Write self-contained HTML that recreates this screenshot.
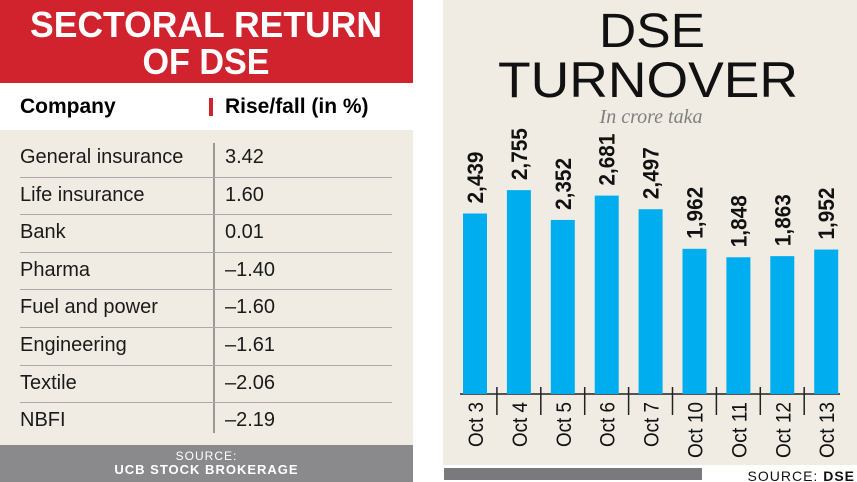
<!DOCTYPE html>
<html><head><meta charset="utf-8">
<style>
html,body{margin:0;padding:0;background:#fff;width:857px;height:482px;overflow:hidden;font-family:"Liberation Sans",sans-serif}
#left{position:absolute;left:0;top:0;width:413px;height:482px;background:#f0ece4}
#red{position:absolute;left:0;top:0;width:413px;height:83px;background:#d1232d}
#hdr{position:absolute;left:0;top:83px;width:413px;height:47px;background:#fff;font-weight:bold;font-size:21px}
.row{position:absolute;left:20px;width:372px;height:37.6px;font-size:20px;line-height:37.6px;color:#1a1a1a}
.row span{position:absolute;left:205px}
#src{position:absolute;left:0;top:445px;width:413px;height:37px;background:#8a8a8c;color:#fff;text-align:center;font-size:12px;line-height:14px;padding-top:4px;box-sizing:border-box;letter-spacing:1px}
#right{position:absolute;left:443px;top:0;width:414px;height:465px;background:#f0ece4}
</style></head><body>
<div id="left">
<div id="red">
<svg width="413" height="83"><text x="206" y="37" text-anchor="middle" font-size="36" font-weight="bold" fill="#fff" textLength="352" lengthAdjust="spacingAndGlyphs">SECTORAL RETURN</text><text x="206" y="74" text-anchor="middle" font-size="36" font-weight="bold" fill="#fff" textLength="127" lengthAdjust="spacingAndGlyphs">OF DSE</text></svg>
</div>
<div id="hdr">
<div style="position:absolute;left:20px;top:12px">Company</div>
<div style="position:absolute;left:209px;top:15px;width:4px;height:18px;background:#d1232d"></div>
<div style="position:absolute;left:225px;top:12px">Rise/fall (in %)</div>
</div>
<div style="position:absolute;left:213px;top:143px;width:1.5px;height:290px;background:#999"></div>
<div id="rows"></div>
<div id="src">SOURCE:<br><b style="font-size:13px">UCB STOCK BROKERAGE</b></div>
</div>
<div id="right"></div>
<svg width="857" height="482" style="position:absolute;left:0;top:0">
<text x="652" y="47" text-anchor="middle" font-size="48" font-family="Liberation Sans,sans-serif" fill="#111" textLength="106" lengthAdjust="spacingAndGlyphs">DSE</text>
<text x="648" y="97" text-anchor="middle" font-size="50" font-family="Liberation Sans,sans-serif" fill="#111" textLength="300" lengthAdjust="spacingAndGlyphs">TURNOVER</text>
<text x="651" y="123" text-anchor="middle" font-size="20" font-style="italic" font-family="Liberation Serif,serif" fill="#808080">In crore taka</text>
<g id="bars"></g>
<rect x="444" y="468" width="258" height="12" fill="#7a7a7c"/>
<text x="855" y="481" text-anchor="end" font-size="14" fill="#111" letter-spacing="1">SOURCE: <tspan font-weight="bold">DSE</tspan></text>
</svg>
<script>
const sectors=["General insurance","Life insurance","Bank","Pharma","Fuel and power","Engineering","Textile","NBFI"];
const returns=["3.42","1.60","0.01","-1.40","-1.60","-1.61","-2.06","-2.19"];
const dates=["Oct 3","Oct 4","Oct 5","Oct 6","Oct 7","Oct 10","Oct 11","Oct 12","Oct 13"];
const turnover=[2439,2755,2352,2681,2497,1962,1848,1863,1952];
const rows=document.getElementById('rows');
sectors.forEach((s,i)=>{
const d=document.createElement('div');d.className='row';


d.style.top=(139+i*37.6)+'px';
if(i<sectors.length-1)d.style.borderBottom='1.5px solid #aaa';
d.innerHTML=s+'<span>'+returns[i].replace('-','\u2013')+'</span>';
rows.appendChild(d);});
const NS='http://www.w3.org/2000/svg',g=document.getElementById('bars');
const base=394,scale=0.074,x0=463,step=43.9,bw=24;
const y=v=>base-v*scale;
function mk(t,a){const e=document.createElementNS(NS,t);for(const k in a)e.setAttribute(k,a[k]);g.appendChild(e);return e;}
const ax=mk('line',{x1:460,y1:base,x2:840,y2:base,stroke:'#222','stroke-width':1.5});


turnover.forEach((v,i)=>{
const x=x0+i*step;
const r=mk('rect',{x:x,y:y(v),width:bw,height:base-y(v),fill:'#00aeef'});


const cx=x+bw/2+8;
const t=mk('text',{x:0,y:0,transform:`translate(${cx},${y(v)-10}) rotate(-90)`,'font-size':22,'font-weight':'bold',fill:'#111',textLength:52,lengthAdjust:'spacingAndGlyphs'});
t.textContent=v.toLocaleString('en-US');


const dl=mk('text',{x:0,y:0,'text-anchor':'end',transform:`translate(${cx},${base+8}) rotate(-90)`,'font-size':21,fill:'#111',textLength:dates[i].length>5?56:45,lengthAdjust:'spacingAndGlyphs'});
dl.textContent=dates[i];


if(i>0){const tk=mk('line',{x1:x-10,y1:387,x2:x-10,y2:415,stroke:'#222','stroke-width':1.5});

}
});
</script>
</body></html>
